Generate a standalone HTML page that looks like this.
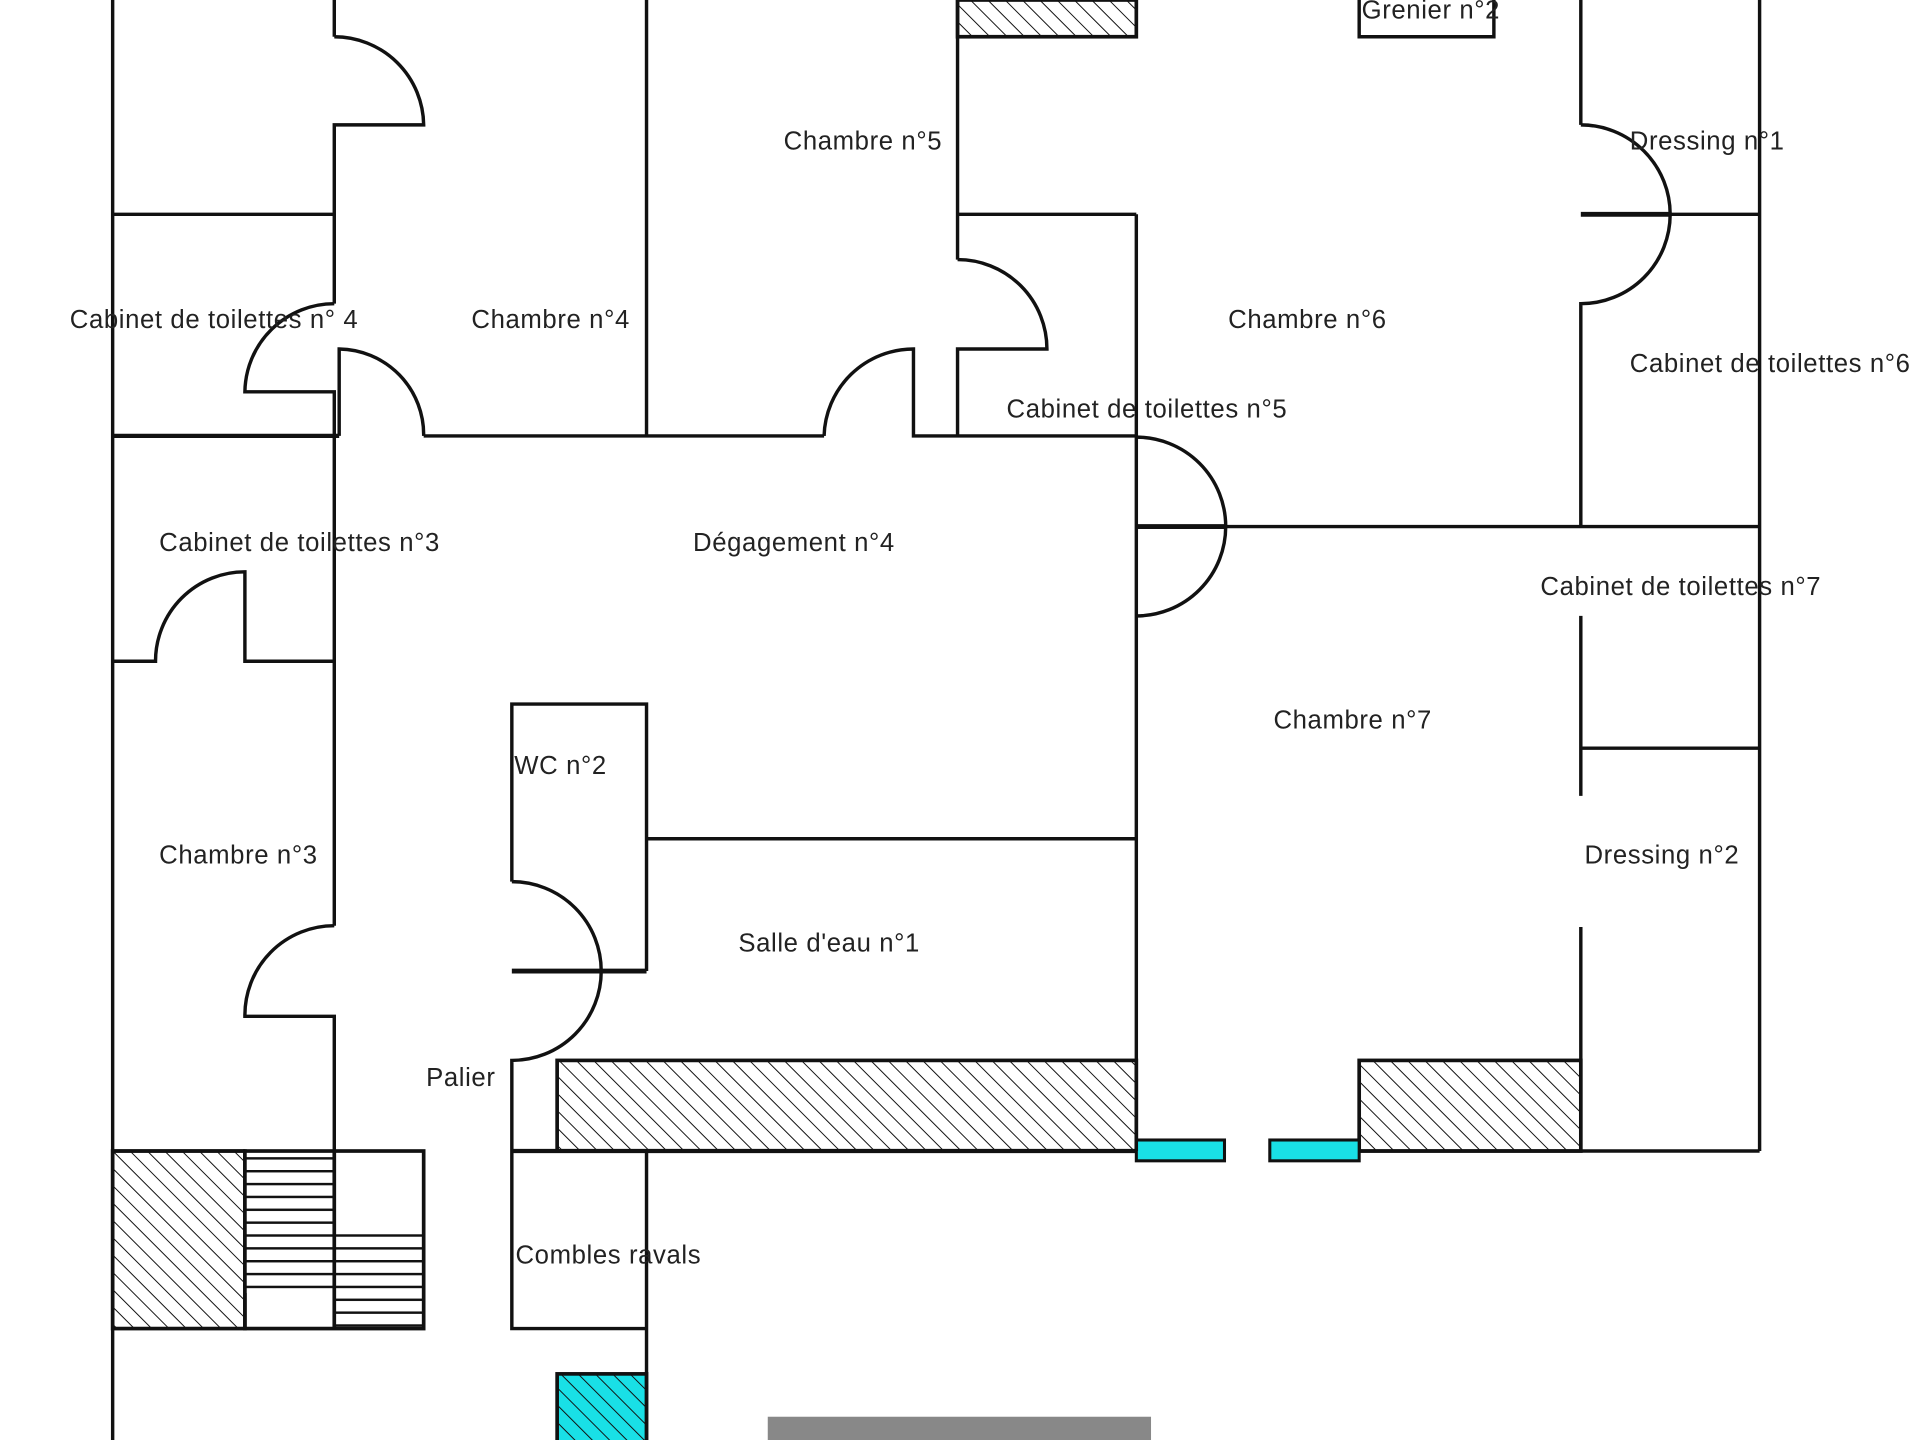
<!DOCTYPE html>
<html><head><meta charset="utf-8"><style>
html,body{margin:0;padding:0;background:#fff;}
svg{display:block;}
text{font-family:"Liberation Sans",sans-serif;font-size:21px;letter-spacing:0.5px;fill:#222;}
</style></head><body>
<svg width="1920" height="1440" viewBox="0 0 1568 1176" xmlns="http://www.w3.org/2000/svg">
<defs>
<pattern id="h" patternUnits="userSpaceOnUse" width="10" height="10" patternTransform="rotate(-45)">
<rect width="10" height="10" fill="#fff"/><line x1="0" y1="0" x2="0" y2="10" stroke="#111" stroke-width="1.6"/></pattern>
<pattern id="hc" patternUnits="userSpaceOnUse" width="10" height="10" patternTransform="rotate(-45)">
<rect width="10" height="10" fill="#19e0e6"/><line x1="0" y1="0" x2="0" y2="10" stroke="#111" stroke-width="1.6"/></pattern>
<pattern id="st" patternUnits="userSpaceOnUse" width="10" height="10.5">
<rect width="10" height="10.5" fill="#fff"/><line x1="0" y1="1" x2="10" y2="1" stroke="#111" stroke-width="2"/></pattern>
</defs>
<rect width="1568" height="1176" fill="#fff"/>
<rect x="782" y="0" width="146" height="30" fill="url(#h)" stroke="#111" stroke-width="3"/>
<rect x="455" y="866" width="473" height="74" fill="url(#h)" stroke="#111" stroke-width="3"/>
<rect x="1110" y="866" width="181" height="74" fill="url(#h)" stroke="#111" stroke-width="3"/>
<rect x="92" y="940" width="108" height="145" fill="url(#h)" stroke="#111" stroke-width="3"/>
<rect x="200" y="940" width="73" height="116" fill="url(#st)"/>
<rect x="273" y="1005" width="73" height="80" fill="url(#st)"/>
<rect x="200" y="940" width="146" height="145" fill="none" stroke="#111" stroke-width="3"/>
<line x1="273" y1="940" x2="273" y2="1085" stroke="#111" stroke-width="3"/>
<rect x="455" y="1122" width="73" height="60" fill="url(#hc)" stroke="#111" stroke-width="3"/>
<rect x="928" y="931" width="72" height="17" fill="#19e0e6" stroke="#111" stroke-width="2.5"/>
<rect x="1037" y="931" width="73" height="17" fill="#19e0e6" stroke="#111" stroke-width="2.5"/>
<rect x="627" y="1157" width="313" height="19" fill="#888"/>
<g stroke="#111" stroke-width="2.8" fill="none">
<line x1="92" y1="0" x2="92" y2="1176"/>
<line x1="273" y1="0" x2="273" y2="30"/>
<path d="M273 30 A73 73 0 0 1 346 102 L273 102 L273 248"/>
<path d="M273 248 A73 73 0 0 0 200 320 L273 320 L273 356"/>
<path d="M277 356 L277 285 A70 70 0 0 1 346 356"/>
<line x1="92" y1="175" x2="273" y2="175"/>
<line x1="92" y1="356" x2="277" y2="356" stroke-width="3.5"/>
<line x1="346" y1="356" x2="673" y2="356"/>
<path d="M673 356 A73 73 0 0 1 746 285 L746 356 L928 356"/>
<line x1="528" y1="0" x2="528" y2="356"/>
<line x1="782" y1="0" x2="782" y2="212"/>
<path d="M782 212 A73 73 0 0 1 855 285 L782 285 L782 356"/>
<line x1="782" y1="175" x2="928" y2="175"/>
<line x1="273" y1="356" x2="273" y2="756"/>
<path d="M273 756 A73 73 0 0 0 200 830 L273 830 L273 940"/>
<path d="M92 540 L127 540 A73 73 0 0 1 200 467 L200 540 L273 540"/>
<path d="M418 720 L418 575 L528 575 L528 793"/>
<path d="M418 720 A73 73 0 0 1 418 866 L418 1085 L528 1085"/>
<line x1="418" y1="793" x2="528" y2="793" stroke-width="4"/>
<line x1="528" y1="685" x2="928" y2="685"/>
<line x1="92" y1="940" x2="200" y2="940"/>
<line x1="418" y1="940" x2="928" y2="940" stroke-width="3.5"/>
<line x1="1110" y1="940" x2="1437" y2="940"/>
<line x1="528" y1="940" x2="528" y2="1176"/>
<line x1="928" y1="175" x2="928" y2="940"/>
<path d="M928 357 A73 73 0 0 1 928 503"/>
<line x1="928" y1="430" x2="1000" y2="430" stroke-width="4"/>
<line x1="1000" y1="430" x2="1437" y2="430"/>
<path d="M1110 0 L1110 30 L1220 30 L1220 0"/>
<line x1="1291" y1="0" x2="1291" y2="102"/>
<path d="M1291 102 A73 73 0 0 1 1291 248 L1291 430"/>
<line x1="1291" y1="175" x2="1365" y2="175" stroke-width="4"/>
<line x1="1365" y1="175" x2="1437" y2="175"/>
<line x1="1437" y1="0" x2="1437" y2="940"/>
<line x1="1291" y1="503" x2="1291" y2="650"/>
<line x1="1291" y1="611" x2="1437" y2="611"/>
<line x1="1291" y1="757" x2="1291" y2="940"/>
</g>
<text x="57" y="268">Cabinet de toilettes n° 4</text>
<text x="385" y="268">Chambre n°4</text>
<text x="640" y="122">Chambre n°5</text>
<text x="1112" y="15">Grenier n°2</text>
<text x="1331" y="122">Dressing n°1</text>
<text x="1003" y="268">Chambre n°6</text>
<text x="1331" y="304">Cabinet de toilettes n°6</text>
<text x="822" y="341">Cabinet de toilettes n°5</text>
<text x="130" y="450">Cabinet de toilettes n°3</text>
<text x="566" y="450">Dégagement n°4</text>
<text x="1258" y="486">Cabinet de toilettes n°7</text>
<text x="1040" y="595">Chambre n°7</text>
<text x="420" y="632">WC n°2</text>
<text x="130" y="705">Chambre n°3</text>
<text x="1294" y="705">Dressing n°2</text>
<text x="603" y="777">Salle d'eau n°1</text>
<text x="348" y="887">Palier</text>
<text x="421" y="1032">Combles ravals</text>
</svg>
</body></html>
